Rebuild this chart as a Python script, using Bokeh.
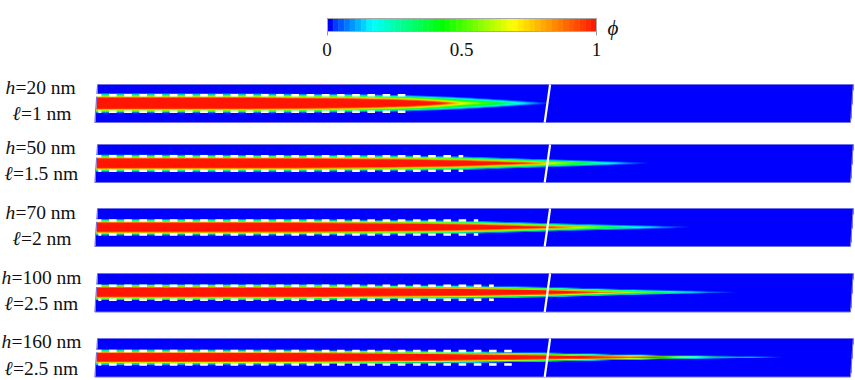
import numpy as np
from bokeh.core.properties import value
from bokeh.embed import file_html
from bokeh.models import LinearColorMapper, Range1d
from bokeh.plotting import figure
from bokeh.resources import INLINE

W, H = 855, 380

# Panel labels
h_labels = ["=20 nm", "=50 nm", "=70 nm", "=100 nm", "=160 nm"]
l_labels = ["=1 nm", "=1.5 nm", "=2 nm", "=2.5 nm", "=2.5 nm"]
h_x = [5, 5, 5, 1, 1]
l_x = [12, 4, 12, 4, 4]
h_y = [87, 147, 212, 277, 341]
l_y = [113, 173, 238, 303, 368]

# Panel extents (image pixels, y down)
top = [84, 144, 208, 273, 338]
bot = [122, 182, 246, 311.5, 376.5]
wall = [8.3, 7.3, 7.0, 7.0, 6.7]
dash_end = [405, 462.7, 477.7, 493.3, 511.7]

# x station, half-thickness, centre-line strength for every panel
xs = [
    [94, 250, 350, 405, 430, 463, 497, 523, 550],
    [94, 300, 400, 462, 533, 560, 587, 617, 650],
    [94, 300, 430, 478, 563, 590, 617, 653, 693],
    [94, 300, 470, 546, 597, 627, 657, 690, 733],
    [94, 300, 430, 546, 657, 680, 713, 750, 778],
]
hw = [
    [9.8, 9.6, 9.0, 8.0, 7.2, 6.0, 4.0, 2.5, 0.5],
    [8.5, 8.2, 7.6, 6.6, 4.2, 3.5, 2.6, 1.7, 0.3],
    [8.0, 7.8, 6.8, 6.0, 3.6, 2.9, 2.3, 1.6, 0.2],
    [8.0, 7.7, 6.4, 5.0, 3.6, 2.8, 2.2, 1.6, 0.2],
    [7.5, 7.2, 6.2, 4.4, 2.0, 1.6, 1.2, 0.9, 0.2],
]
peak = [
    [2.22, 2.2, 1.9, 1.55, 1.25, 0.72, 0.45, 0.18, 0.0],
    [2.22, 2.2, 1.9, 1.6, 0.98, 0.69, 0.43, 0.17, 0.0],
    [2.22, 2.2, 1.9, 1.65, 0.98, 0.69, 0.43, 0.17, 0.0],
    [2.22, 2.2, 1.85, 1.5, 0.98, 0.69, 0.43, 0.17, 0.0],
    [2.22, 2.2, 1.95, 1.55, 0.98, 0.69, 0.43, 0.17, 0.0],
]

# Colour scale stops
stops_v = [0.0, 0.03, 0.166, 0.43, 0.69, 1.0]
stops_c = [(0, 0, 255), (0, 60, 255), (0, 255, 255), (0, 255, 0), (255, 255, 0), (255, 20, 0)]
tick_vals = [0, 0.5, 1]
tick_text = ["0", "0.5", "1"]


def palette(n):
    out = []
    for k in range(n):
        t = 0 if k == 0 else (k + 0.5) / n
        c = [int(np.interp(t, stops_v, [s[i] for s in stops_c])) for i in range(3)]
        out.append("#%02x%02x%02x" % tuple(c))
    return out


field_mapper = LinearColorMapper(palette=palette(256), low=0, high=1, nan_color="#ffffff00")

p = figure(width=W, height=H, x_range=Range1d(0, W), y_range=Range1d(0, H),
           output_backend="svg", toolbar_location=None, min_border=0,
           outline_line_color=None, background_fill_color="white")
p.axis.visible = False
p.grid.visible = False


def smooth(a, n):
    k = np.ones(n) / n
    return np.convolve(np.pad(a, n // 2, mode="edge"), k, mode="valid")[: len(a)]


SS = 2
SERIF = value("Liberation Serif")
FS = "19.5px"
for i in range(5):
    t, b = top[i], bot[i]
    yc = (t + b) / 2
    x0, x1 = 90, 856
    nx, ny = (x1 - x0) * SS, int(round((b - t) * SS))
    X = x0 + (np.arange(nx) + 0.5) / SS
    Y = t + (np.arange(ny) + 0.5) * (b - t) / ny
    XX, YY = np.meshgrid(X, Y)
    hwi = smooth(np.interp(X, xs[i], hw[i]), 31)[None, :]
    pki = smooth(np.interp(X, xs[i], peak[i]), 31)[None, :]
    q = np.abs(YY - yc) / np.maximum(hwi, 0.05)
    fld = np.clip(pki * (1 - q), 0, 1)
    skew = (YY - t) / (b - t) * 2.7
    fld[(XX < 97 - skew) | (XX > 852.7 - skew)] = np.nan
    p.image(image=[fld[::-1]], x=x0, y=H - b, dw=x1 - x0, dh=b - t, color_mapper=field_mapper)
    p.patch([97, 852.7, 850, 94.3], [H - t, H - t, H - b, H - b], fill_alpha=0,
            line_color="#7070e8", line_width=1)
    starts = np.arange(93.3, dash_end[i], 15.2)
    ends = np.minimum(starts + 7.6, dash_end[i])
    for s in (-1, 1):
        yy = np.full(starts.shape, H - (yc + s * wall[i]))
        starts_s = starts.copy()
        starts_s[0] = 96.5 + s * 1.3
        p.segment(starts_s, yy, ends, yy, line_color="white", line_width=2.6)
    p.line([549.6, 544.2], [H - t, H - b], line_color="white", line_width=2.2)
    p.text([h_x[i]], [H - h_y[i]], text=["h"], text_font=SERIF, text_font_style="italic",
           text_font_size=FS, text_baseline="middle", text_color="#111111")
    p.text([h_x[i] + 10], [H - h_y[i]], text=[h_labels[i]], text_font=SERIF,
           text_font_size=FS, text_baseline="middle", text_color="#111111")
    p.text([l_x[i]], [H - l_y[i]], text=["\u2113"], text_font=SERIF, text_font_style="italic",
           text_font_size=FS, text_baseline="middle", text_color="#111111")
    p.text([l_x[i] + 8.5], [H - l_y[i]], text=[l_labels[i]], text_font=SERIF,
           text_font_size=FS, text_baseline="middle", text_color="#111111")

# colour scale drawn as bins
bar_pal = palette(48)
edges = np.linspace(327, 596, 49)
p.quad(left=edges[:-1], right=edges[1:], top=H - 18, bottom=H - 31, fill_color=bar_pal,
       line_color=bar_pal, line_width=0.5)
p.patch([327, 596, 596, 327], [H - 18, H - 18, H - 31, H - 31], fill_alpha=0, line_color="#a8a8a8", line_width=1)
for xt in (327, 596):
    p.line([xt, xt], [H - 31, H - 35], line_color="#999999", line_width=1)
p.text([326.5, 461, 596], [H - 49] * 3, text=tick_text, text_font=SERIF,
       text_font_size="19px", text_align="center", text_baseline="middle", text_color="#111111")
p.text([607], [H - 27], text=["\u03d5"], text_font=SERIF, text_font_style="italic",
       text_font_size="21px", text_baseline="middle", text_color="#111111")

open("out.html", "w").write(file_html(p, INLINE))
